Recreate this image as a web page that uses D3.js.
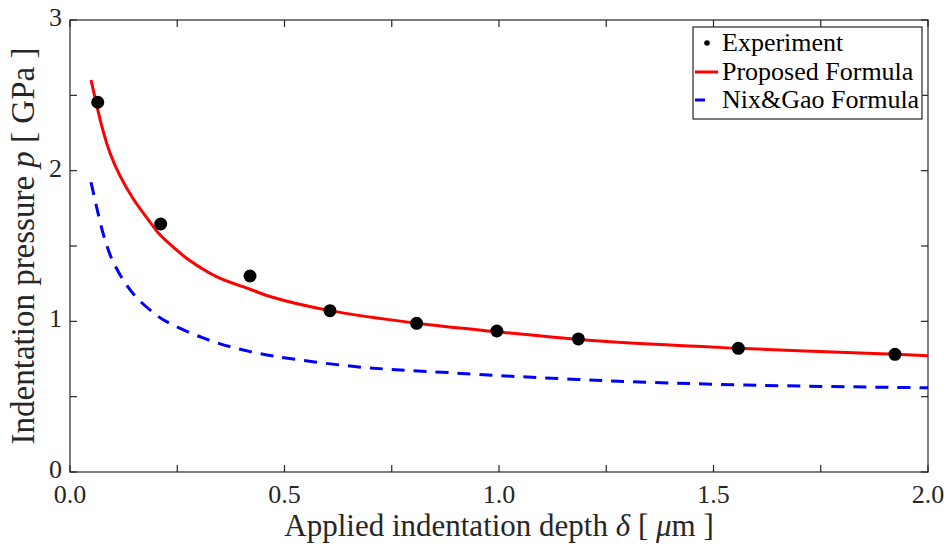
<!DOCTYPE html>
<html>
<head>
<meta charset="utf-8">
<script src="https://cdn.jsdelivr.net/npm/d3@7"></script>
<style>
  body { margin: 0; background: #fff; }
  svg { display: block; }
</style>
</head>
<body>
<svg id="chart" width="950" height="551"></svg>
<script>
// experiment: depth (um), pressure (GPa)
const expDepth = [0.0646, 0.2114, 0.4196, 0.606, 0.808, 0.995, 1.185, 1.558, 1.923];
const expPressure = [2.454, 1.646, 1.301, 1.071, 0.987, 0.936, 0.883, 0.821, 0.781];

// proposed formula curve
const proposedDepth = [0.049, 0.0606, 0.0746, 0.0932, 0.1166, 0.1492, 0.1865, 0.2098, 0.242, 0.275, 0.340, 0.420, 0.466, 0.606, 0.808, 0.995, 1.235, 1.557, 1.923, 2.0];
const proposedPressure = [2.602, 2.456, 2.290, 2.117, 1.965, 1.805, 1.659, 1.575, 1.490, 1.412, 1.299, 1.213, 1.165, 1.071, 0.987, 0.931, 0.869, 0.821, 0.781, 0.772];

// Nix & Gao curve
const nixDepth = [0.049, 0.078, 0.097, 0.125, 0.155, 0.2, 0.225, 0.31, 0.42, 0.653, 0.886, 1.207, 1.577, 2.0];
const nixPressure = [1.923, 1.575, 1.418, 1.270, 1.158, 1.045, 0.998, 0.890, 0.799, 0.703, 0.659, 0.611, 0.577, 0.559];

const xTicks = [0, 0.5, 1.0, 1.5, 2.0];
const xMinorTicks = [0.25, 0.75, 1.25, 1.75];
const yTicks = [0, 1, 2, 3];
const yMinorTicks = [0.5, 1.5, 2.5];

const legendLabels = ["Experiment", "Proposed Formula", "Nix&Gao Formula"];

const FONT = '"Liberation Serif", "DejaVu Serif", "Noto Serif", serif';

const svg = d3.select("#chart")
    .attr("font-family", FONT);
const margin = { top: 20, right: 22, bottom: 79, left: 70 };
const width = 950 - margin.left - margin.right;
const height = 551 - margin.top - margin.bottom;

const x = d3.scaleLinear().domain([0, 2]).range([0, width]);
const y = d3.scaleLinear().domain([0, 3]).range([height, 0]);

const g = svg.append("g").attr("transform", `translate(${margin.left},${margin.top})`);

const axisColor = "#262626";
const tickLen = 7;

// box
g.append("rect")
    .attr("width", width).attr("height", height)
    .attr("fill", "none").attr("stroke", axisColor).attr("stroke-width", 1.2);

// ticks on all four sides, pointing in
const allX = xTicks.concat(xMinorTicks);
const allY = yTicks.concat(yMinorTicks);
const tickG = g.append("g").attr("stroke", axisColor).attr("stroke-width", 1.2);
allX.forEach(v => {
    tickG.append("line").attr("x1", x(v)).attr("x2", x(v)).attr("y1", height).attr("y2", height - tickLen);
    tickG.append("line").attr("x1", x(v)).attr("x2", x(v)).attr("y1", 0).attr("y2", tickLen);
});
allY.forEach(v => {
    tickG.append("line").attr("y1", y(v)).attr("y2", y(v)).attr("x1", 0).attr("x2", tickLen);
    tickG.append("line").attr("y1", y(v)).attr("y2", y(v)).attr("x1", width).attr("x2", width - tickLen);
});

// tick labels
g.selectAll(".xlab").data(xTicks).join("text")
    .attr("x", d => x(d)).attr("y", height + 31)
    .attr("text-anchor", "middle").attr("font-size", 26).attr("fill", axisColor)
    .text(d => d3.format(".1f")(d));

g.selectAll(".ylab").data(yTicks).join("text")
    .attr("x", -8).attr("y", d => y(d) + 6)
    .attr("text-anchor", "end").attr("font-size", 26).attr("fill", axisColor)
    .text(d => d);

// axis titles
const xt = g.append("text")
    .attr("x", width / 2).attr("y", height + 64)
    .attr("text-anchor", "middle").attr("font-size", 31).attr("fill", axisColor);
xt.append("tspan").text("Applied indentation depth ");
xt.append("tspan").attr("font-style", "italic").text("δ");
xt.append("tspan").text(" [ ");
xt.append("tspan").attr("font-style", "italic").text("μ");
xt.append("tspan").text("m ]");

const yt = g.append("text")
    .attr("transform", `translate(${-36},${height / 2}) rotate(-90)`)
    .attr("text-anchor", "middle").attr("font-size", 33).attr("fill", axisColor);
yt.append("tspan").text("Indentation pressure ");
yt.append("tspan").attr("font-style", "italic").text("p");
yt.append("tspan").text(" [ GPa ]");

// curves
const line = d3.line()
    .x(d => x(d[0])).y(d => y(d[1]))
    .curve(d3.curveCatmullRom.alpha(0.5));

g.append("path")
    .datum(nixDepth.map((d, i) => [d, nixPressure[i]]))
    .attr("d", line)
    .attr("fill", "none").attr("stroke", "#0000ff").attr("stroke-width", 3)
    .attr("stroke-dasharray", "13,9");

g.append("path")
    .datum(proposedDepth.map((d, i) => [d, proposedPressure[i]]))
    .attr("d", line)
    .attr("fill", "none").attr("stroke", "#ff0000").attr("stroke-width", 3);

g.selectAll(".pt").data(expDepth.map((d, i) => [d, expPressure[i]])).join("circle")
    .attr("cx", d => x(d[0])).attr("cy", d => y(d[1]))
    .attr("r", 6.5).attr("fill", "#000");

// legend
const lg = svg.append("g").attr("transform", "translate(693,27)");
lg.append("rect")
    .attr("width", 229).attr("height", 92)
    .attr("fill", "#fff").attr("stroke", axisColor).attr("stroke-width", 1.2);

const rowY = [16, 45, 73];
lg.append("circle").attr("cx", 14).attr("cy", rowY[0]).attr("r", 2.8).attr("fill", "#000");
lg.append("line").attr("x1", 2).attr("x2", 25).attr("y1", rowY[1]).attr("y2", rowY[1])
    .attr("stroke", "#ff0000").attr("stroke-width", 3);
lg.append("line").attr("x1", 2).attr("x2", 25).attr("y1", rowY[2]).attr("y2", rowY[2])
    .attr("stroke", "#0000ff").attr("stroke-width", 3).attr("stroke-dasharray", "10,20");

lg.selectAll(".leg").data(legendLabels).join("text")
    .attr("x", 29).attr("y", (d, i) => rowY[i] + 8)
    .attr("font-size", 26).attr("fill", "#000")
    .text(d => d);
</script>
</body>
</html>
